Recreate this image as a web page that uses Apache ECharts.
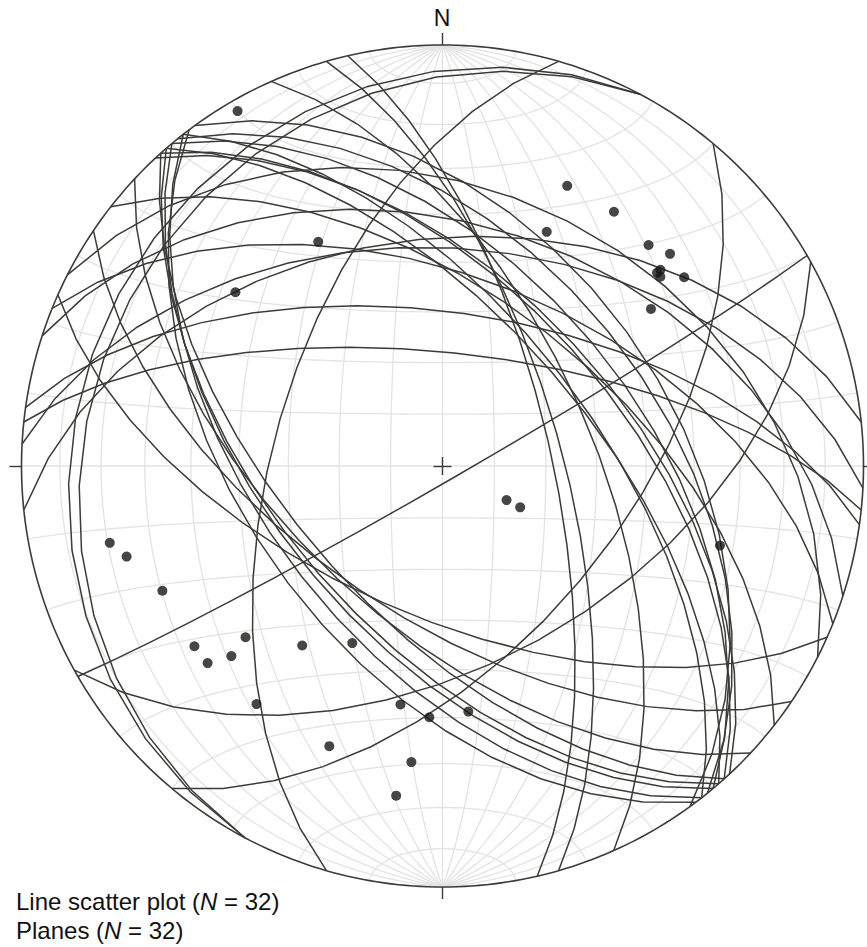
<!DOCTYPE html>
<html>
<head>
<meta charset="utf-8">
<title>Stereonet</title>
<script src="https://cdn.jsdelivr.net/npm/echarts@6/dist/echarts.min.js"></script>
<style>
  html, body { margin: 0; padding: 0; background: #ffffff; overflow: hidden; }
  #chart { width: 867px; height: 947px; display: block; }
</style>
</head>
<body>
<div id="chart"></div>
<script>
// Planes: strike (right-hand rule) and dip, degrees
const planeStrikes = [60, 196, 208, 208, 278, 276, 347, 344, 336, 61, 40, 143, 114, 124, 133, 138,
                      140, 139, 142, 264, 273, 292, 288, 297, 322, 319, 318, 317, 308, 321, 320, 324];
const planeDips    = [87, 57, 14, 17, 60, 68, 69, 67, 61, 51, 55, 52, 61, 61, 60, 61,
                      57, 58, 55, 45, 47, 53, 42, 35, 61, 62, 56, 55, 57, 48, 52, 45];

// Lines: trend and plunge, degrees
const lineTrends   = [330, 24, 34, 24, 331, 43, 47, 48, 49, 52, 310, 53, 118, 118, 257, 254,
                      106, 246, 229, 234, 228, 230, 218, 207, 218, 190, 183, 174, 202, 186, 188, 48];
const linePlunges  = [3, 28, 28, 39, 39, 29, 27, 32, 32, 28, 36, 38, 76, 73, 20, 23,
                      32, 28, 38, 28, 33, 28, 45, 51, 29, 42, 40, 41, 29, 30, 22, 31];

const legendLines = ['Line scatter plot', 'Planes'];
const gridInterval = 10;   // net spacing, degrees

const D2R = Math.PI / 180;

// Lower-hemisphere equal-area (Schmidt) projection, unit primitive radius
function project(trend, plunge) {
  const r = Math.SQRT2 * Math.sin((90 - plunge) / 2 * D2R);
  return [r * Math.sin(trend * D2R), r * Math.cos(trend * D2R)];
}
function vecToTrendPlunge(e, n, d) {
  if (d < 0) { e = -e; n = -n; d = -d; }
  const len = Math.hypot(e, n, d);
  return [Math.atan2(e, n) / D2R, Math.asin(Math.min(1, d / len)) / D2R];
}
function projectVec(e, n, d) {
  const tp = vecToTrendPlunge(e, n, d);
  return project(tp[0], tp[1]);
}
function greatCircle(strike, dip, step) {
  const s = strike * D2R, dd = (strike + 90) * D2R, d = dip * D2R;
  const S = [Math.sin(s), Math.cos(s), 0];
  const Dv = [Math.cos(d) * Math.sin(dd), Math.cos(d) * Math.cos(dd), Math.sin(d)];
  const pts = [];
  for (let a = 0; a <= 180 + 1e-9; a += step) {
    const ca = Math.cos(a * D2R), sa = Math.sin(a * D2R);
    pts.push(projectVec(ca * S[0] + sa * Dv[0], ca * S[1] + sa * Dv[1], ca * S[2] + sa * Dv[2]));
  }
  return pts;
}
// small circle about the horizontal N (sign=1) or S (sign=-1) axis
function smallCircle(alpha, sign, step) {
  const pts = [];
  const sa = Math.sin(alpha * D2R), ca = Math.cos(alpha * D2R);
  for (let f = 0; f <= 180 + 1e-9; f += step) {
    pts.push(projectVec(sa * Math.cos(f * D2R), sign * ca, sa * Math.sin(f * D2R)));
  }
  return pts;
}

// Net: meridians and parallels
const netPaths = [];
for (let dip = gridInterval; dip < 90; dip += gridInterval) {
  netPaths.push(greatCircle(0, dip, 2));
  netPaths.push(greatCircle(180, dip, 2));
  netPaths.push(smallCircle(dip, 1, 2));
  netPaths.push(smallCircle(dip, -1, 2));
}
netPaths.push([[0, -1], [0, 1]]);
netPaths.push([[-1, 0], [1, 0]]);

// Primitive circle
const primitive = [];
for (let a = 0; a <= 360; a += 1) primitive.push([Math.sin(a * D2R), Math.cos(a * D2R)]);

// Plane traces
const planePaths = planeStrikes.map((s, i) => greatCircle(s, planeDips[i], 10));

// Line poles
const linePoints = lineTrends.map((t, i) => project(t, linePlunges[i]));

// Ticks and centre cross
const R_PX = 421;
const tk = 12 / R_PX, cr = 9 / R_PX;
const markSegments = [
  [[0, 1], [0, 1 + tk]],
  [[0, -1], [0, -1 - tk]],
  [[-1, 0], [-1 - tk, 0]],
  [[1, 0], [1 + tk, 0]],
  [[-cr, 0], [cr, 0]],
  [[0, -cr], [0, cr]]
];

// Page geometry: net centre and radius in pixels
const W = 867, H = 947;
const cx = 442.5, cy = 466;
const EXT = 1.04;
const xMin = -EXT, xMax = (W - cx) / R_PX;
const gridLeft = cx + xMin * R_PX;
const gridWidth = (xMax - xMin) * R_PX;

const chart = echarts.init(document.getElementById('chart'), null, { renderer: 'svg', width: W, height: H });
const font = '"Liberation Sans", Arial, Helvetica, sans-serif';
chart.setOption({
  animation: false,
  backgroundColor: '#ffffff',
  grid: { left: gridLeft, top: cy - EXT * R_PX, width: gridWidth, height: 2 * EXT * R_PX, containLabel: false },
  xAxis: { type: 'value', min: xMin, max: xMax, show: false },
  yAxis: { type: 'value', min: -EXT, max: EXT, show: false },
  series: [
    {
      type: 'lines', coordinateSystem: 'cartesian2d', polyline: true, silent: true, z: 1,
      data: netPaths.map(c => ({ coords: c })),
      lineStyle: { color: '#e3e3e3', width: 1.3, opacity: 1 }
    },
    {
      type: 'lines', coordinateSystem: 'cartesian2d', polyline: true, silent: true, z: 2,
      data: planePaths.map(c => ({ coords: c })),
      lineStyle: { color: '#3b3b38', width: 1.5, opacity: 1 }
    },
    {
      type: 'lines', coordinateSystem: 'cartesian2d', polyline: true, silent: true, z: 3,
      data: [{ coords: primitive }],
      lineStyle: { color: '#3b3b38', width: 1.6, opacity: 1 }
    },
    {
      type: 'lines', coordinateSystem: 'cartesian2d', polyline: false, silent: true, z: 3,
      data: markSegments.map(c => ({ coords: c })),
      lineStyle: { color: '#3b3b38', width: 1.4, opacity: 1 }
    },
    {
      type: 'scatter', z: 4, silent: true,
      data: linePoints,
      symbol: 'circle', symbolSize: 10,
      itemStyle: { color: '#1a1717' }
    }
  ],
  graphic: [
    {
      type: 'text', x: 442, y: 18,
      style: { text: 'N', font: '23px ' + font, fill: '#111111', align: 'center', verticalAlign: 'middle' }
    },
    {
      type: 'text', x: 16, y: 901,
      style: {
        text: '{a|' + legendLines[0] + ' (}{i|N}{a| = ' + lineTrends.length + ')}',
        rich: {
          a: { font: '24px ' + font, fill: '#111111' },
          i: { font: 'italic 24px ' + font, fill: '#111111' }
        },
        verticalAlign: 'middle'
      }
    },
    {
      type: 'text', x: 16, y: 930,
      style: {
        text: '{a|' + legendLines[1] + ' (}{i|N}{a| = ' + planeStrikes.length + ')}',
        rich: {
          a: { font: '24px ' + font, fill: '#111111' },
          i: { font: 'italic 24px ' + font, fill: '#111111' }
        },
        verticalAlign: 'middle'
      }
    }
  ]
});
</script>
</body>
</html>
